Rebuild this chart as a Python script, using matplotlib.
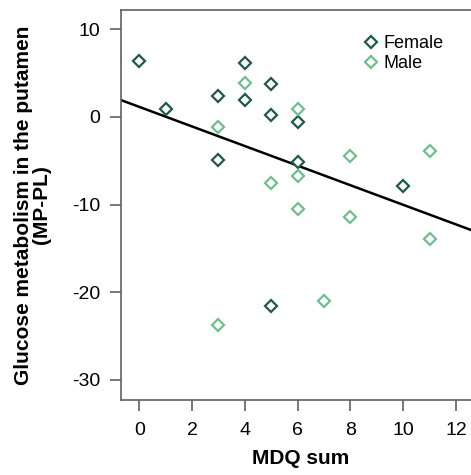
import numpy as np
import matplotlib
matplotlib.use('Agg')
import matplotlib.pyplot as plt

plt.rcParams['font.family'] = ['Liberation Sans', 'DejaVu Sans']
plt.rcParams['axes.unicode_minus'] = False

# MDQ sum vs glucose metabolism
female_x = [0, 1, 3, 3, 4, 4, 5, 5, 6, 6, 10, 5]
female_y = [6.4, 0.9, 2.4, -4.95, 6.2, 1.95, 3.7, 0.25, -0.6, -5.1, -7.9, -21.6]
male_x = [4, 3, 6, 5, 6, 6, 8, 8, 11, 11, 3, 7]
male_y = [3.9, -1.2, 0.95, -7.5, -6.7, -10.5, -4.5, -11.4, -3.85, -13.9, -23.8, -21.0]

x_ticks = [0, 2, 4, 6, 8, 10, 12]
y_ticks = [10, 0, -10, -20, -30]

dark = '#1e5a45'
light = '#6dbf8e'
grey = '#606060'

fig = plt.figure(figsize=[4.71, 4.75], dpi=100)
ax = fig.add_axes([0.2569, 0.1579, 0.762, 0.8211])

ax.plot(female_x, female_y, 'D', ms=6, mfc='white', mec=dark, mew=1.6, label='Female', zorder=3)
ax.plot(male_x, male_y, 'D', ms=6, mfc='white', mec=light, mew=1.6, label='Male', zorder=3)

# least squares line through all subjects
all_x = np.array(female_x + male_x)
all_y = np.array(female_y + male_y)
slope, icpt = np.polyfit(all_x, all_y, 1)
xx = np.array([-1, 14])
ax.plot(xx, icpt + slope * xx, color='black', lw=1.8, zorder=2)

ax.set_xlim(-0.69, 12.9)
ax.set_ylim(-32.3, 12.2)
ax.set_xticks(x_ticks)
ax.set_yticks(y_ticks)
ax.tick_params(labelsize=14, length=8, width=1.2, color=grey)
ax.tick_params(axis='x', pad=8)
ax.tick_params(axis='y', pad=7)
for s in ax.spines.values():
    s.set_color(grey)
    s.set_linewidth(1.2)

ax.set_xlabel('MDQ sum', fontsize=15, fontweight='bold', labelpad=7)
ax.set_ylabel('Glucose metabolism in the putamen\n(MP-PL)', fontsize=15,
              fontweight='bold', labelpad=15, linespacing=0.95)

ax.legend(loc='upper left', bbox_to_anchor=(0.764, 0.926), bbox_transform=fig.transFigure,
          frameon=False, fontsize=13, handletextpad=0.1, labelspacing=0.15,
          borderaxespad=0, borderpad=0, handlelength=1.2)

plt.savefig('out.png', dpi=100)
